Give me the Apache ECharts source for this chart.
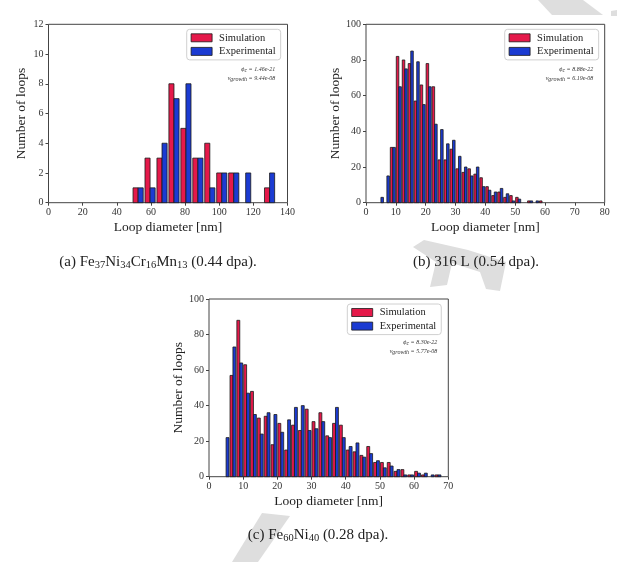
<!DOCTYPE html>
<html><head><meta charset="utf-8">
<script src="https://cdn.jsdelivr.net/npm/echarts@6/dist/echarts.min.js"></script>
<style>html,body{margin:0;padding:0;background:#fff}#c{width:640px;height:562px}</style>
</head><body><div id="c"></div>
<script>
// ---- data (bin edges in nm, counts of loops) ----
const binStartA = 49, binWidthA = 7;
const simA = [1,3,3,8,5,3,4,2,2,0,0,1];
const expA = [1,1,4,7,8,3,1,2,2,2,0,2];

const binStartB = 4, binWidthB = 2;
const simB = [0,0,31,82,80,78,57,66,78,65,24,24,30,19,17,19,16,14,9,4,6,3,4,3,0,1,0,1];
const expB = [3,15,31,65,75,85,79,55,65,44,41,33,35,26,20,15,20,9,7,6,8,5,1,2,0,1,1,0];

const binStartC = 4, binWidthC = 2;
const simC = [0,57,88,63,48,33,34,18,30,15,29,26,38,31,36,23,30,29,15,14,12,17,8,8,8,3,4,1,3,1,0,1];
const expC = [22,73,64,47,35,24,36,35,25,32,39,40,26,27,31,22,39,22,17,19,11,13,9,5,6,4,1,1,2,2,1,1];

const xRangeA = [0,140,20], yRangeA = [0,12,2];
const xRangeB = [0,80,10],  yRangeB = [0,100,20];
const xRangeC = [0,70,10],  yRangeC = [0,100,20];

const seriesNames = ['Simulation','Experimental'];
const paramsA = ['1.46e-21','9.44e-08'];
const paramsB = ['8.88e-22','6.19e-08'];
const paramsC = ['8.30e-22','5.77e-08'];
const captions = [
  '(a) Fe{s|37}Ni{s|34}Cr{s|16}Mn{s|13} (0.44 dpa).',
  '(b) 316 L (0.54 dpa).',
  '(c) Fe{s|60}Ni{s|40} (0.28 dpa).'
];

// ---- styling ----
const SIM = '#e5194a', EXP = '#1b3bd2', EDGE = '#1a1a1a', FRAME = '#444';
const FONT = '"Liberation Serif", "DejaVu Serif", serif';
const RW = 0.85; // relative bar width of histogram

function toData(start, w, counts){ return counts.map((c,i)=>[start + i*w, c]); }

function render(bw, side){
  return function(params, api){
    const s = api.value(0), v = api.value(1);
    if (!v) return null;
    const off = (1-RW)/2*bw + side*(RW/2)*bw;
    const p0 = api.coord([s+off, v]);
    const p1 = api.coord([s+off+(RW/2)*bw, 0]);
    return {type:'rect', shape:{x:p0[0], y:p0[1], width:p1[0]-p0[0], height:p1[1]-p0[1]},
      style:{fill: side? EXP: SIM, stroke: EDGE, lineWidth: 0.8}};
  };
}

const grids = [
  {left:48.5, top:24.3, width:239, height:178.4},
  {left:366, top:24.3, width:238.7, height:178.4},
  {left:209, top:299, width:239.3, height:177.7}
].map(g=>Object.assign(g,{show:true, borderColor:FRAME, borderWidth:1, backgroundColor:'transparent'}));

function xAx(i, r){ return {type:'value', gridIndex:i, min:r[0], max:r[1], interval:r[2],
  name:'Loop diameter [nm]', nameLocation:'middle', nameGap:18,
  nameTextStyle:{fontFamily:FONT, fontSize:13.5, color:'#222'},
  axisLine:{show:false}, splitLine:{show:false},
  axisTick:{show:true, length:3, lineStyle:{color:FRAME}},
  axisLabel:{fontFamily:FONT, fontSize:10, color:'#333', margin:5}}; }
function yAx(i, r, gap){ return {type:'value', gridIndex:i, min:r[0], max:r[1], interval:r[2],
  name:'Number of loops', nameLocation:'middle', nameGap:gap,
  nameTextStyle:{fontFamily:FONT, fontSize:13.5, color:'#222'},
  axisLine:{show:false}, splitLine:{show:false},
  axisTick:{show:true, length:3, lineStyle:{color:FRAME}},
  axisLabel:{fontFamily:FONT, fontSize:10, color:'#333', margin:5}}; }

const sets = [[binStartA,binWidthA,simA,expA],[binStartB,binWidthB,simB,expB],[binStartC,binWidthC,simC,expC]];
const series = [];
sets.forEach((st,i)=>{
  [st[2], st[3]].forEach((cnt,side)=>{
    series.push({type:'custom', name:seriesNames[side], xAxisIndex:i, yAxisIndex:i,
      renderItem: render(st[1], side), data: toData(st[0], st[1], cnt),
      itemStyle:{color: side?EXP:SIM, borderColor:EDGE, borderWidth:0.8},
      encode:{x:0, y:1}, z:2, silent:true});
  });
});

function legend(left, top){ return {left:left, top:top, orient:'vertical', icon:'rect',
  data:seriesNames, itemWidth:21, itemHeight:8, itemGap:2.6,
  padding:[3,5,3,4], borderColor:'#d0d0d0', borderWidth:1, borderRadius:3, backgroundColor:'#fff',
  itemStyle:{borderColor:EDGE, borderWidth:0.8},
  textStyle:{fontFamily:FONT, fontSize:10.5, color:'#222', padding:[0,0,0,2]}}; }

const subRich = {s:{fontFamily:FONT, fontSize:6, fontStyle:'italic', padding:[3,0,0,0], fill:'#333'},
                 m:{fontFamily:FONT, fontSize:6, fontStyle:'italic', fill:'#333'}};
function annot(xr, y, p){ return [
  {type:'text', x:xr, y:y, z:10, style:{text:'{m|ϕ}{s|c}{m| = '+p[0]+'}', textAlign:'right', textVerticalAlign:'middle', rich:subRich, fill:'#333'}},
  {type:'text', x:xr, y:y+9, z:10, style:{text:'{m|v}{s|growth}{m| = '+p[1]+'}', textAlign:'right', textVerticalAlign:'middle', rich:subRich, fill:'#333'}}
]; }
const capRich = {s:{fontFamily:FONT, fontSize:10.5, padding:[6,0,0,0], fill:'#222'}};
function cap(x, y, t){ return {type:'text', x:x, y:y, z:10, style:{text:t, textAlign:'center', textVerticalAlign:'middle',
  font:'15px '+FONT, fill:'#222', rich:capRich}}; }

const WM = '#dedede';
const graphic = [
  {type:'polygon', z:-5, shape:{points:[[538,0],[583,0],[603,15],[552,15]]}, style:{fill:WM}},
  {type:'polygon', z:-5, shape:{points:[[611,11],[617,10],[617,16],[611,16]]}, style:{fill:WM}},
  {type:'polygon', z:-5, shape:{points:[[413,247],[424,240],[468,250],[506,262],[500,291],[486,289],[480,272],[452,263],[447,285],[430,287],[436,262]]}, style:{fill:WM}},
  {type:'polygon', z:-5, shape:{points:[[262,513],[290,516],[258,562],[232,562]]}, style:{fill:WM}},
  ...annot(275.3, 69.3, paramsA),
  ...annot(593.3, 69.3, paramsB),
  ...annot(437.3, 342.3, paramsC),
  cap(158, 262, captions[0]),
  cap(476, 262, captions[1]),
  cap(318, 535, captions[2])
];

const chart = echarts.init(document.getElementById('c'));
chart.setOption({
  animation:false, backgroundColor:'#fff',
  grid: grids,
  xAxis:[xAx(0,xRangeA), xAx(1,xRangeB), xAx(2,xRangeC)],
  yAxis:[yAx(0,yRangeA,20), yAx(1,yRangeB,24), yAx(2,yRangeC,23.5)],
  legend:[legend(186.7,29.3), legend(504.7,29.3), legend(347.3,304)],
  series: series,
  graphic: graphic
});
</script></body></html>
